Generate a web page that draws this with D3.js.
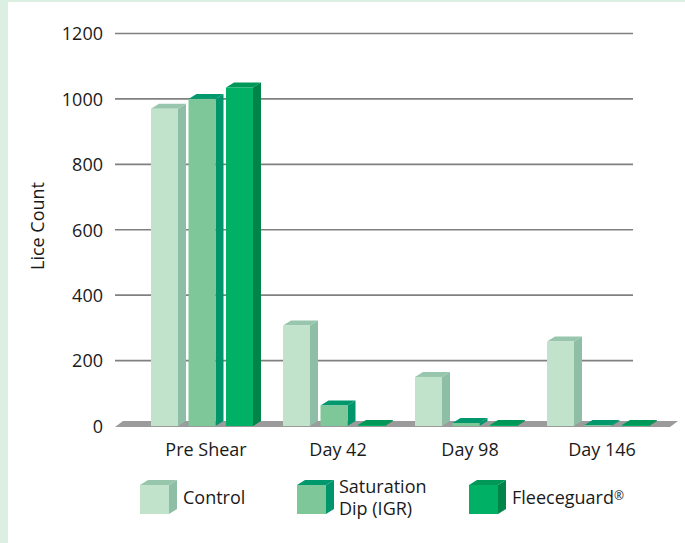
<!DOCTYPE html>
<html><head><meta charset="utf-8">
<script src="https://cdn.jsdelivr.net/npm/d3@7"></script>
<style>
html,body{margin:0;padding:0;background:#fff;}
svg{display:block;}
text{font-family:"Open Sans",sans-serif;fill:#1a1a1a;}
</style></head>
<body>
<script>
const categories = ["Pre Shear", "Day 42", "Day 98", "Day 146"];
const seriesNames = ["Control", "Saturation Dip (IGR)", "Fleeceguard®"];
const control = [970, 307, 150, 258];
const saturation = [1000, 63, 9, 3];
const fleeceguard = [1035, 3, 3, 3];
const yTicks = [0, 200, 400, 600, 800, 1000, 1200];

const W = 685, H = 543;
const svg = d3.select("body").append("svg").attr("width", W).attr("height", H);

svg.append("rect").attr("x",0).attr("y",0).attr("width",W).attr("height",H).attr("fill","#dcefe3");
svg.append("rect").attr("x",8).attr("y",2).attr("width",W-8).attr("height",H-2).attr("fill","#fff");

const colors = [
  {front:"#c2e3cb", side:"#8fbea6", top:"#98c6ad"},
  {front:"#7dc799", side:"#00956a", top:"#00986c"},
  {front:"#00b064", side:"#008447", top:"#009858"}
];
const DX = 8, DY = 5;
const FS = 18;

const y = d3.scaleLinear().domain([0, 1200]).range([426, 33.5]);
const x = d3.scaleBand().domain(categories).range([140, 668]);
const xs = d3.scaleBand().domain([0,1,2]).range([5.75, 118.25]).paddingInner(0.28).paddingOuter(0.14);

svg.append("g").selectAll("line").data(yTicks.filter(d => d > 0)).join("line")
  .attr("x1", 115).attr("x2", 633)
  .attr("y1", d => y(d)).attr("y2", d => y(d))
  .attr("stroke", "#808080").attr("stroke-width", 1.6);

const floorL = 115, floorR = 670;
svg.append("path")
  .attr("d", `M${floorL},${y(0)+1}L${floorR},${y(0)+1}L${floorR+DX},${y(0)-DY}L${floorL+DX},${y(0)-DY}Z`)
  .attr("fill", "#9b9b9b");

const yAxis = d3.axisLeft(y).tickValues(yTicks).tickSize(0).tickPadding(0).tickFormat(d3.format("d"));
const ga = svg.append("g").attr("transform", "translate(103,0)").call(yAxis);
ga.select(".domain").remove();
ga.selectAll("text").attr("font-size", FS).attr("font-family", '"Open Sans",sans-serif').attr("fill","#1a1a1a").attr("dy","0.35em");

svg.append("text").attr("transform", "translate(44,226) rotate(-90)")
  .attr("text-anchor", "middle").attr("font-size", FS).text("Lice Count");

const allSeries = [control, saturation, fleeceguard];
function cube(g, x0, yTop, yBot, w, c) {
  g.append("path").attr("d", `M${x0+w},${yTop}L${x0+w+DX},${yTop-DY}L${x0+w+DX},${yBot-DY}L${x0+w},${yBot}Z`).attr("fill", c.side);
  g.append("path").attr("d", `M${x0},${yTop}L${x0+DX},${yTop-DY}L${x0+w+DX},${yTop-DY}L${x0+w},${yTop}Z`).attr("fill", c.top);
  g.append("rect").attr("x", x0).attr("y", yTop).attr("width", w).attr("height", Math.max(0, yBot - yTop)).attr("fill", c.front);
}
const gb = svg.append("g");
categories.forEach((cat, ci) => {
  allSeries.forEach((s, si) => {
    const x0 = x(cat) + xs(si);
    cube(gb, x0, y(s[ci]), y(0), xs.bandwidth(), colors[si]);
  });
});

svg.append("g").selectAll("text").data(categories).join("text")
  .attr("x", d => x(d) + x.bandwidth()/2)
  .attr("y", 456).attr("text-anchor", "middle").attr("font-size", FS).text(d => d);

const legX = [140, 297, 469];
const lg = svg.append("g");
seriesNames.forEach((name, i) => {
  cube(lg, legX[i], 485, 514, 29, colors[i]);
  const t = lg.append("text").attr("x", legX[i] + 43).attr("font-size", FS);
  if (name === "Saturation Dip (IGR)") {
    t.append("tspan").attr("x", legX[i] + 42).attr("y", 493).text("Saturation");
    t.append("tspan").attr("x", legX[i] + 42).attr("y", 515).text("Dip (IGR)");
  } else if (name === "Fleeceguard®") {
    t.attr("y", 504);
    t.append("tspan").text("Fleeceguard");
    t.append("tspan").attr("font-size", 12).attr("dy", -4).text("®");
  } else {
    t.attr("y", 504).text(name);
  }
});
</script>
</body></html>
